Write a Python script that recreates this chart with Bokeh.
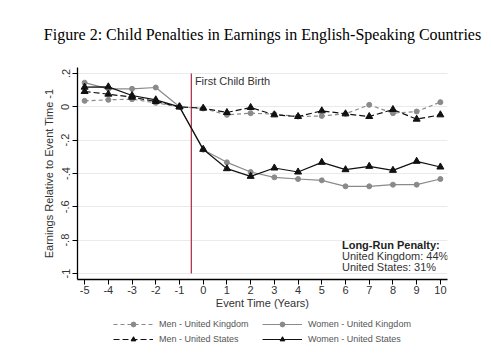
from bokeh.plotting import figure
from bokeh.layouts import column
from bokeh.models import Legend, LegendItem, Label, Range1d, FixedTicker
from bokeh.embed import file_html
from bokeh.resources import INLINE

# ---- data ----
event_time = [-5, -4, -3, -2, -1, 0, 1, 2, 3, 4, 5, 6, 7, 8, 9, 10]
men_uk = [0.036, 0.042, 0.046, 0.024, 0.0, -0.010, -0.048, -0.038, -0.044, -0.058, -0.055, -0.042, 0.012, -0.038, -0.028, 0.028]
men_us = [0.092, 0.076, 0.058, 0.032, 0.0, -0.008, -0.034, -0.004, -0.048, -0.058, -0.024, -0.042, -0.058, -0.016, -0.074, -0.048]
women_uk = [0.145, 0.108, 0.108, 0.116, 0.0, -0.257, -0.333, -0.391, -0.423, -0.433, -0.441, -0.477, -0.477, -0.467, -0.467, -0.433]
women_us = [0.118, 0.120, 0.068, 0.042, 0.0, -0.255, -0.371, -0.417, -0.367, -0.391, -0.333, -0.377, -0.357, -0.381, -0.327, -0.361]
y_ticks = [0.2, 0, -0.2, -0.4, -0.6, -0.8, -1]
y_tick_labels = [".2", "0", "-.2", "-.4", "-.6", "-.8", "-1"]
x_ticks = list(range(-5, 11))
x_tick_labels = [str(v) for v in x_ticks]
birth_x = [-0.5]
birth_y0 = [-1.0]
birth_y1 = [0.2]
series_labels = ["Men - United Kingdom", "Women - United Kingdom", "Men - United States", "Women - United States"]
penalty_lines = ["Long-Run Penalty:", "United Kingdom:  44%", "United States:  31%"]

FONT = "Liberation Sans"

p = figure(width=483, height=315, output_backend="svg", toolbar_location=None,
           x_range=Range1d(-5.3, 10.3), y_range=Range1d(-1.036, 0.236),
           min_border_left=77, min_border_right=36, min_border_top=67, min_border_bottom=36)

p.title.text = "Figure 2: Child Penalties in Earnings in English-Speaking Countries"
p.title.text_font = "Liberation Serif"
p.title.text_font_size = "16px"
p.title.text_font_style = "normal"
p.title.align = "center"
p.title.text_color = "#000000"
p.title.standoff = 46
p.title.vertical_align = "top"

p.outline_line_color = None
p.background_fill_color = "white"
p.border_fill_color = "white"

# grid
p.xgrid.grid_line_color = None
p.ygrid.ticker = FixedTicker(ticks=y_ticks)
p.ygrid.grid_line_color = "#eaeaea"
p.ygrid.grid_line_width = 1

# axes
p.xaxis.ticker = FixedTicker(ticks=x_ticks)
p.xaxis.major_label_overrides = {t: l for t, l in zip(x_ticks, x_tick_labels)}
p.yaxis.ticker = FixedTicker(ticks=y_ticks)
p.yaxis.major_label_overrides = {t: l for t, l in zip(y_ticks, y_tick_labels)}
p.yaxis.major_label_orientation = "vertical"
for ax in (p.xaxis[0], p.yaxis[0]):
    ax.axis_line_color = "#000000"
    ax.axis_line_width = 1.3
    ax.major_tick_line_color = "#000000"
    ax.major_tick_in = 0
    ax.major_tick_out = 5
    ax.minor_tick_line_color = None
    ax.major_label_text_font = FONT
    ax.major_label_text_font_size = "11px"
    ax.major_label_text_color = "#333333"
    ax.axis_label_text_font = FONT
    ax.axis_label_text_font_size = "11px"
    ax.axis_label_text_font_style = "normal"
    ax.axis_label_text_color = "#333333"
p.xaxis.axis_label = "Event Time (Years)"
p.yaxis.axis_label = "Earnings Relative to Event Time -1"
p.xaxis.axis_label_standoff = 0
p.yaxis.axis_label_standoff = 4
p.xaxis.major_label_standoff = 1
p.yaxis.major_label_standoff = 3

# vertical line at birth
p.segment(x0=birth_x, y0=birth_y0, x1=birth_x, y1=birth_y1, line_color="#b03a55", line_width=1.3)
p.add_layout(Label(x=-0.35, y=0.155, text="First Child Birth", text_font=FONT, text_font_size="11px",
                   text_color="#333333", text_baseline="middle"))

# series styles
c_gray = "#8a8a8a"
c_black = "#111111"
styles = [
    dict(color=c_gray, dash="4 3", marker="circle", size=5),
    dict(color=c_gray, dash="solid", marker="circle", size=5),
    dict(color=c_black, dash="6 3", marker="triangle", size=7),
    dict(color=c_black, dash="solid", marker="triangle", size=7),
]
series = [men_uk, women_uk, men_us, women_us]
for ys, st in zip(series, styles):
    p.line(event_time, ys, line_color=st["color"], line_width=1.2, line_dash=st["dash"])
    p.scatter(event_time, ys, marker=st["marker"], size=st["size"], fill_color=st["color"], line_color=st["color"])

# long-run penalty box
for i, txt in enumerate(penalty_lines):
    p.add_layout(Label(x=5.85, y=-0.83 - 0.066 * i, text=txt, text_font=FONT, text_font_size="11px",
                       text_font_style="bold" if i == 0 else "normal",
                       text_color="#222222" if i == 0 else "#333333", text_baseline="middle"))

# ---- legend figure: same series drawn off-range, only the legend keys show ----
lg = figure(width=483, height=36, output_backend="svg", toolbar_location=None,
            x_range=Range1d(100, 101), y_range=Range1d(100, 101), x_axis_type=None, y_axis_type=None,
            min_border_left=77, min_border_right=36, min_border_top=0, min_border_bottom=0)
lg.grid.visible = False
lg.outline_line_color = None
lg.border_fill_color = "white"
items = []
for lab, ys, st in zip(series_labels, series, styles):
    lr = lg.line(event_time, ys, line_color=st["color"], line_width=1.2, line_dash=st["dash"])
    sr = lg.scatter(event_time, ys, marker=st["marker"], size=st["size"] - 1,
                    fill_color=st["color"], line_color=st["color"])
    items.append(LegendItem(label=lab, renderers=[lr, sr]))
legend = Legend(items=items, ncols=2, orientation="horizontal", location=(36, 6))
legend.label_text_font = FONT
legend.label_text_font_size = "9px"
legend.label_text_color = "#555555"
legend.glyph_width = 40
legend.glyph_height = 12
legend.label_height = 12
legend.label_width = 100
legend.label_standoff = 6
legend.spacing = 3
legend.padding = 0
legend.margin = 0
legend.border_line_color = None
legend.background_fill_alpha = 0
lg.add_layout(legend)

layout = column(p, lg, spacing=0)
open("out.html", "w").write(file_html(layout, INLINE))
